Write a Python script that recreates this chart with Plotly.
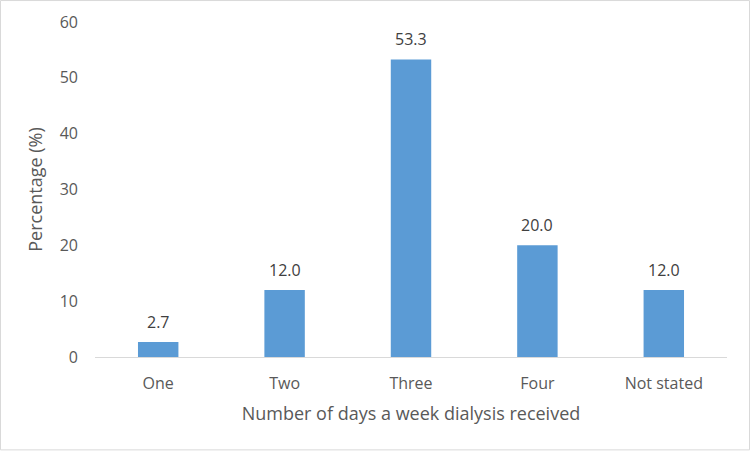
import plotly.graph_objects as go

categories = ["One", "Two", "Three", "Four", "Not stated"]
values = [2.7, 12.0, 53.3, 20.0, 12.0]
labels = [f"{v:.1f}" for v in values]

W, H = 750, 451
L, R, T, B = 95, 23, 22, 93.5
pw, ph = W - L - R, H - T - B

fig = go.Figure()
fig.add_trace(go.Bar(
    x=categories, y=values,
    marker=dict(color="#5B9BD5", line=dict(width=0)),
    width=0.32,
    hoverinfo="skip",
))
for c, v, t in zip(categories, values, labels):
    fig.add_annotation(x=c, y=v, text=t, showarrow=False, yanchor="bottom",
                       yshift=7, font=dict(family="Open Sans", size=16, color="#404040"))

fig.update_layout(
    width=W, height=H,
    margin=dict(l=L, r=R, t=T, b=B),
    paper_bgcolor="white", plot_bgcolor="white",
    showlegend=False,
    font=dict(family="Open Sans", size=16, color="#595959"),
    xaxis=dict(
        showline=True, linecolor="#d9d9d9", linewidth=1,
        showgrid=False, ticks="", ticklabelstandoff=12,
        title=dict(text="Number of days a week dialysis received", standoff=14,
                   font=dict(size=18, color="#595959")),
        tickfont=dict(size=16, color="#595959"),
    ),
    yaxis=dict(
        range=[0, 60], dtick=10, showgrid=False, zeroline=False, showline=False,
        ticks="", ticklabelstandoff=16,
        tickfont=dict(size=16, color="#595959"),
        title=dict(text="Percentage (%)", standoff=12,
                   font=dict(size=18, color="#595959")),
    ),
    shapes=[dict(type="rect", xref="paper", yref="paper",
                 x0=-(L - 0.5) / pw, x1=1 + (R - 0.5) / pw,
                 y0=-(B - 0.5) / ph, y1=1 + (T - 0.5) / ph,
                 line=dict(color="#d9d9d9", width=1), layer="below")],
)

fig.write_html("out.html")
